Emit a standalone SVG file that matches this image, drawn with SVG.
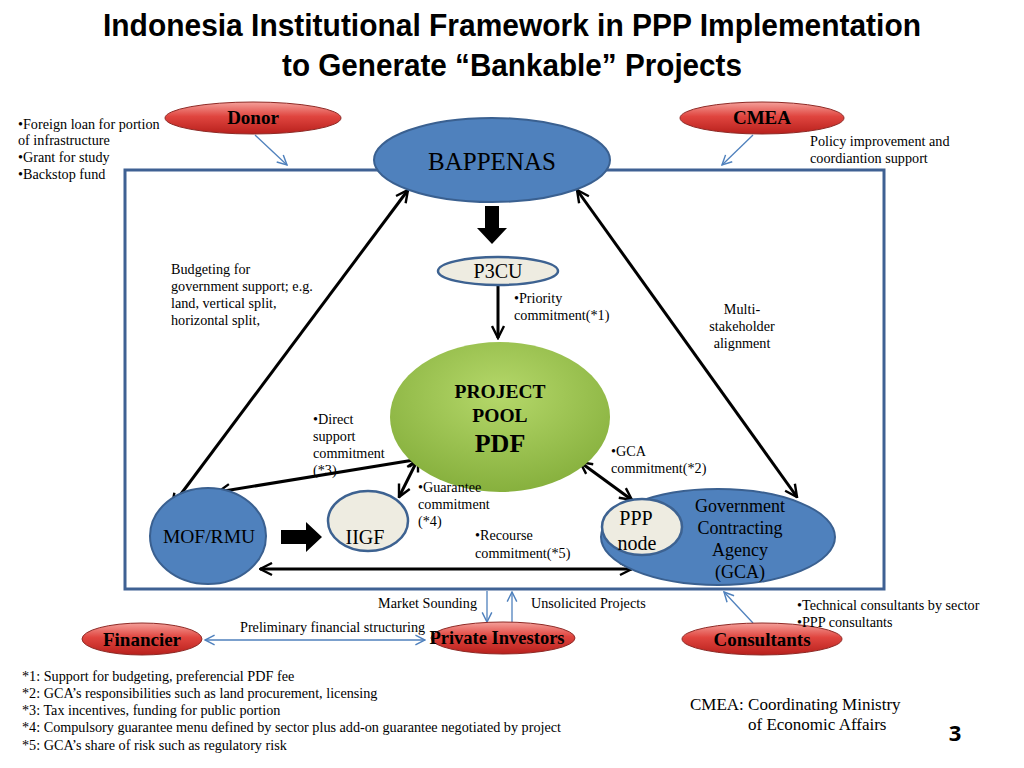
<svg xmlns="http://www.w3.org/2000/svg" width="1024" height="768" viewBox="0 0 1024 768">
<defs>
<linearGradient id="red" x1="0" y1="0" x2="0" y2="1">
<stop offset="0" stop-color="#f4a09a"/><stop offset="0.45" stop-color="#e0453f"/><stop offset="1" stop-color="#b8201c"/>
</linearGradient>
<radialGradient id="green" cx="0.5" cy="0.35" r="0.7">
<stop offset="0" stop-color="#b5d86a"/><stop offset="1" stop-color="#83ad3a"/>
</radialGradient>
<marker id="ah" viewBox="0 0 10 10" refX="9" refY="5" markerWidth="5" markerHeight="5" orient="auto-start-reverse" markerUnits="strokeWidth">
<path d="M1,1 L9,5 L1,9" fill="none" stroke="#000" stroke-width="1.6"/>
</marker>
<marker id="bh" viewBox="0 0 10 10" refX="9" refY="5" markerWidth="12" markerHeight="12" orient="auto-start-reverse" markerUnits="userSpaceOnUse">
<path d="M1,1 L9,5 L1,9" fill="none" stroke="#4f81bd" stroke-width="1.2"/>
</marker>
</defs>
<style>
.t{font-family:"Liberation Serif","Times New Roman",serif;fill:#000}
.s{font-size:14.2px}
.red{fill:url(#red);stroke:#8e2a26;stroke-width:1}
.rl{font-size:19px;font-weight:bold;text-anchor:middle}
.blue{fill:#4f81bd;stroke:#3a6090;stroke-width:2}
.cream{fill:#eeece1;stroke:#3d6291;stroke-width:2.5}
.bk{stroke:#000;stroke-width:3;fill:none}
.bl{stroke:#4f81bd;stroke-width:1.3;fill:none}
.ttl{font-family:"Liberation Sans Narrow","Liberation Sans",sans-serif;font-weight:bold;font-size:31px;text-anchor:middle}
</style>
<rect width="1024" height="768" fill="#fff"/>
<g id="title">
<text class="ttl" x="512" y="36" textLength="818" lengthAdjust="spacingAndGlyphs">Indonesia Institutional Framework in PPP Implementation</text>
<text class="ttl" x="512" y="76" textLength="460" lengthAdjust="spacingAndGlyphs">to Generate “Bankable” Projects</text>
</g>
<rect id="frame" x="125" y="170" width="759" height="419" fill="none" stroke="#3f6193" stroke-width="3"/>
<g id="connectors">
<line class="bk" x1="408" y1="190" x2="172" y2="506" marker-start="url(#ah)" marker-end="url(#ah)"/>
<line class="bk" x1="577" y1="190" x2="797" y2="497" marker-start="url(#ah)" marker-end="url(#ah)"/>
<line class="bk" x1="498" y1="286" x2="498" y2="338" marker-end="url(#ah)"/>
<line class="bk" x1="420" y1="459" x2="218" y2="492" marker-start="url(#ah)" marker-end="url(#ah)"/>
<line class="bk" x1="418" y1="459" x2="399" y2="497" marker-start="url(#ah)" marker-end="url(#ah)"/>
<line class="bk" x1="580" y1="462" x2="632" y2="500" marker-start="url(#ah)" marker-end="url(#ah)"/>
<line class="bk" x1="260" y1="569" x2="632" y2="569" marker-start="url(#ah)" marker-end="url(#ah)"/>
<path d="M485,206 H499 V228 H507 L492,244 L477,228 H485 Z" fill="#000"/>
<path d="M281,530 H306 V522 L322,537 L306,552 V544 H281 Z" fill="#000"/>
<line class="bl" x1="255" y1="135" x2="287" y2="165" marker-end="url(#bh)"/>
<line class="bl" x1="753" y1="135" x2="722" y2="165" marker-end="url(#bh)"/>
<line class="bl" x1="487" y1="591" x2="487" y2="622" marker-end="url(#bh)"/>
<line class="bl" x1="512" y1="622" x2="512" y2="592" marker-end="url(#bh)"/>
<line class="bl" x1="205" y1="640" x2="425" y2="640" marker-start="url(#bh)" marker-end="url(#bh)"/>
<line class="bl" x1="753" y1="623" x2="724" y2="592" marker-end="url(#bh)"/>
</g>
<g id="bappenas"><ellipse class="blue" cx="492" cy="160" rx="118" ry="42"/><text class="t" x="492" y="170" text-anchor="middle" font-size="25">BAPPENAS</text></g>
<g id="donor"><ellipse class="red" cx="253" cy="118" rx="88" ry="16"/><text class="t rl" x="253" y="124">Donor</text></g>
<g id="cmea"><ellipse class="red" cx="762" cy="118" rx="82" ry="16"/><text class="t rl" x="762" y="124">CMEA</text></g>
<g id="p3cu"><ellipse class="cream" cx="498" cy="271" rx="60" ry="14"/><text class="t" x="498" y="278" text-anchor="middle" font-size="20">P3CU</text></g>
<g id="pdf"><ellipse cx="500" cy="417" rx="110" ry="75" fill="url(#green)"/>
<text class="t" x="500" y="398" text-anchor="middle" font-size="19.5" font-weight="bold">PROJECT</text>
<text class="t" x="500" y="422" text-anchor="middle" font-size="19.5" font-weight="bold">POOL</text>
<text class="t" x="500" y="452" text-anchor="middle" font-size="26" font-weight="bold">PDF</text></g>
<g id="mof"><ellipse class="blue" cx="208" cy="536" rx="58" ry="48"/><text class="t" x="209" y="543" text-anchor="middle" font-size="19.5">MOF/RMU</text></g>
<g id="iigf"><ellipse class="cream" cx="368" cy="521" rx="40" ry="30"/><text class="t" x="365" y="544" text-anchor="middle" font-size="20">IIGF</text></g>
<g id="gca"><ellipse class="blue" cx="718" cy="537" rx="117" ry="48"/>
<text class="t" x="740" y="512" text-anchor="middle" font-size="18">Government</text>
<text class="t" x="740" y="534" text-anchor="middle" font-size="18">Contracting</text>
<text class="t" x="740" y="556" text-anchor="middle" font-size="18">Agency</text>
<text class="t" x="740" y="578" text-anchor="middle" font-size="18">(GCA)</text></g>
<g id="pppnode"><ellipse class="cream" cx="642" cy="527" rx="40" ry="28" stroke-width="2"/>
<text class="t" x="636" y="525" text-anchor="middle" font-size="20">PPP</text>
<text class="t" x="637" y="550" text-anchor="middle" font-size="20">node</text></g>
<g id="financier"><ellipse class="red" cx="142" cy="639" rx="60" ry="16"/><text class="t rl" x="142" y="646">Financier</text></g>
<g id="investors"><ellipse class="red" cx="503" cy="638" rx="72" ry="16"/><text class="t rl" x="497" y="644" style="font-size:18.5px">Private Investors</text></g>
<g id="consultants"><ellipse class="red" cx="762" cy="639" rx="80" ry="16"/><text class="t rl" x="762" y="646">Consultants</text></g>
<g id="labels">
<text class="t s" x="18" y="129">•Foreign loan for portion</text>
<text class="t s" x="18" y="145">of infrastructure</text>
<text class="t s" x="18" y="162">•Grant for study</text>
<text class="t s" x="18" y="179">•Backstop fund</text>
<text class="t s" x="810" y="146">Policy improvement and</text>
<text class="t s" x="810" y="163">coordiantion support</text>
<text class="t s" x="171" y="274">Budgeting for</text>
<text class="t s" x="171" y="291">government support; e.g.</text>
<text class="t s" x="171" y="308">land, vertical split,</text>
<text class="t s" x="171" y="325">horizontal split,</text>
<text class="t s" x="514" y="303">•Priority</text>
<text class="t s" x="514" y="320">commitment(*1)</text>
<text class="t s" x="742" y="314" text-anchor="middle">Multi-</text>
<text class="t s" x="742" y="331" text-anchor="middle">stakeholder</text>
<text class="t s" x="742" y="348" text-anchor="middle">alignment</text>
<text class="t s" x="313" y="424">•Direct</text>
<text class="t s" x="313" y="441">support</text>
<text class="t s" x="313" y="458">commitment</text>
<text class="t s" x="313" y="475">(*3)</text>
<text class="t s" x="418" y="492">•Guarantee</text>
<text class="t s" x="418" y="509">commitment</text>
<text class="t s" x="418" y="526">(*4)</text>
<text class="t s" x="611" y="456">•GCA</text>
<text class="t s" x="611" y="473">commitment(*2)</text>
<text class="t s" x="475" y="540">•Recourse</text>
<text class="t s" x="475" y="558">commitment(*5)</text>
<text class="t s" x="477" y="608" text-anchor="end">Market Sounding</text>
<text class="t s" x="531" y="608">Unsolicited Projects</text>
<text class="t s" x="240" y="632">Preliminary financial structuring</text>
<text class="t s" x="797" y="610">•Technical consultants by sector</text>
<text class="t s" x="797" y="627">•PPP consultants</text>
<text class="t s" x="22" y="681">*1: Support for budgeting, preferencial PDF fee</text>
<text class="t s" x="22" y="698">*2: GCA’s responsibilities such as land procurement, licensing</text>
<text class="t s" x="22" y="715">*3: Tax incentives, funding for public portion</text>
<text class="t s" x="22" y="732">*4: Compulsory guarantee menu defined by sector plus add-on guarantee negotiated by project</text>
<text class="t s" x="22" y="750">*5: GCA’s share of risk such as regulatory risk</text>
<text class="t" x="690" y="710" font-size="17">CMEA: Coordinating Ministry</text>
<text class="t" x="748" y="730" font-size="17">of Economic Affairs</text>
<text x="955" y="741" text-anchor="middle" style="font-family:'Open Sans','Liberation Sans',sans-serif;font-weight:bold;font-size:22px">3</text>
</g>
</svg>
